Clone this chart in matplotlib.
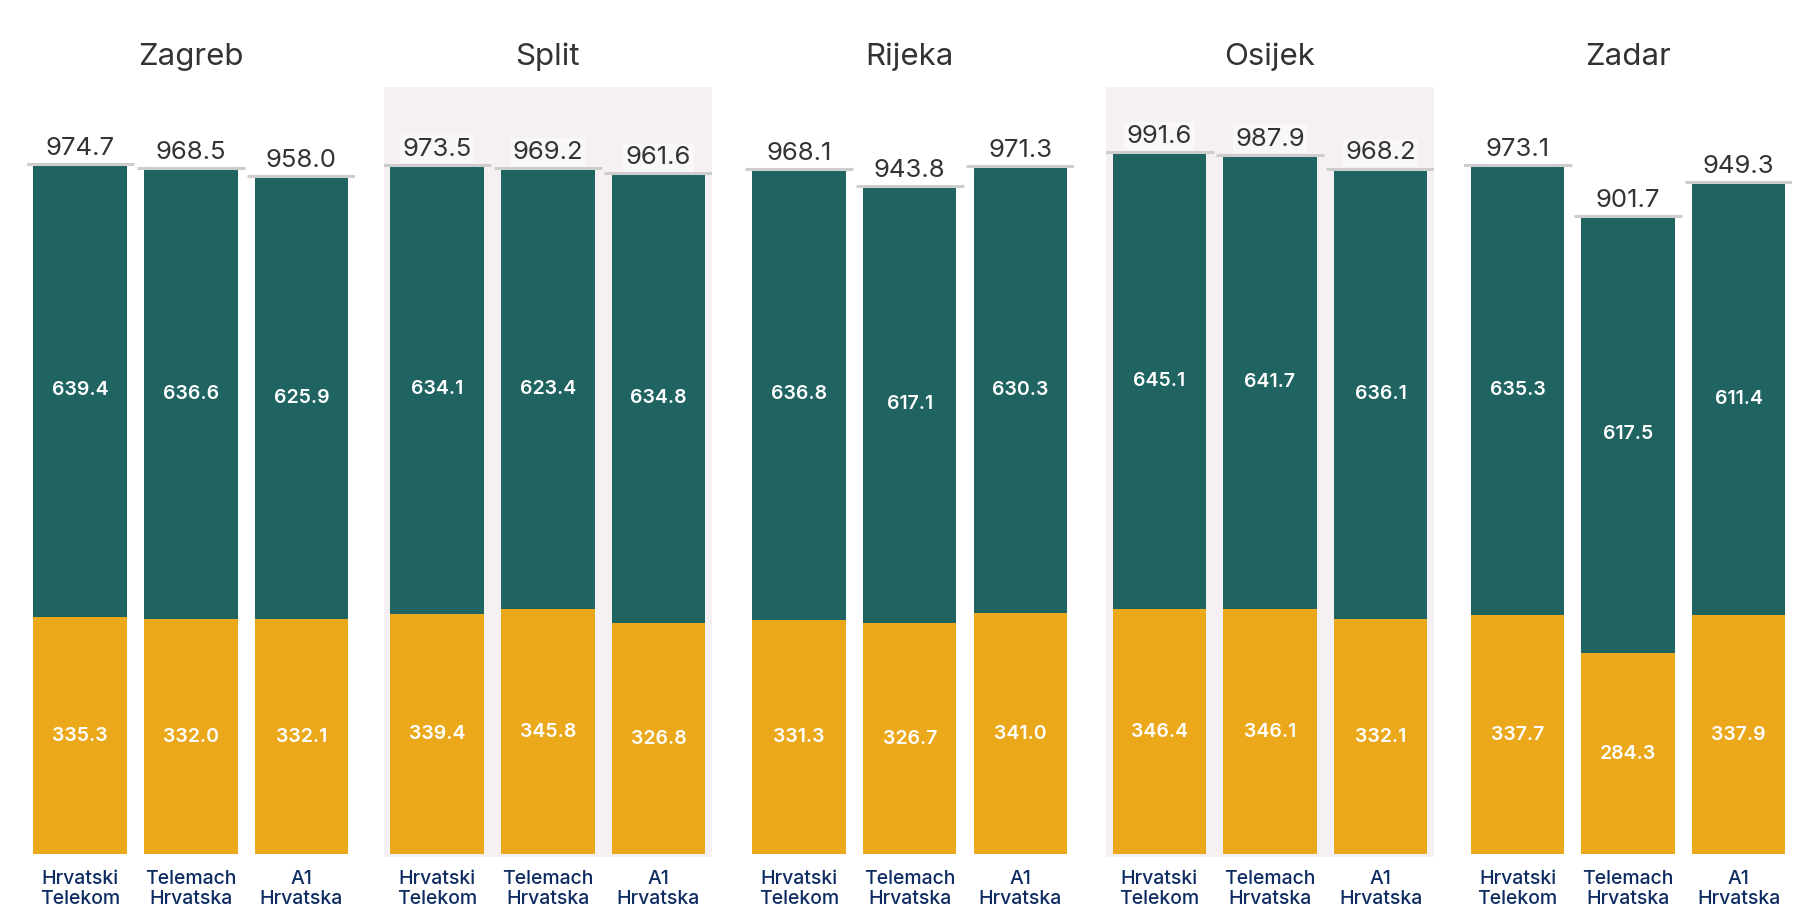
import matplotlib
matplotlib.use("Agg")
import matplotlib.pyplot as plt

plt.rcParams['font.family'] = ['Inter', 'DejaVu Sans']

# data
cities = ["Zagreb", "Split", "Rijeka", "Osijek", "Zadar"]
operators = ["Hrvatski\nTelekom", "Telemach\nHrvatska", "A1\nHrvatska"]
bottom_vals = {
    "Zagreb": [335.3, 332.0, 332.1],
    "Split": [339.4, 345.8, 326.8],
    "Rijeka": [331.3, 326.7, 341.0],
    "Osijek": [346.4, 346.1, 332.1],
    "Zadar": [337.7, 284.3, 337.9],
}
top_vals = {
    "Zagreb": [639.4, 636.6, 625.9],
    "Split": [634.1, 623.4, 634.8],
    "Rijeka": [636.8, 617.1, 630.3],
    "Osijek": [645.1, 641.7, 636.1],
    "Zadar": [635.3, 617.5, 611.4],
}
totals = {
    "Zagreb": [974.7, 968.5, 958.0],
    "Split": [973.5, 969.2, 961.6],
    "Rijeka": [968.1, 943.8, 971.3],
    "Osijek": [991.6, 987.9, 968.2],
    "Zadar": [973.1, 901.7, 949.3],
}
shaded = ["Split", "Osijek"]

green = "#1F6461"
yellow = "#EBA81A"
panel_bg = "#F5F0F3"
cap_color = "#CDCDCD"

fig = plt.figure(figsize=(18.05, 9.1), dpi=100)

lefts = [0.0147, 0.2125, 0.413, 0.6126, 0.811]
width = 0.182
bottom = 0.058
height = 0.846

for city, left in zip(cities, lefts):
    ax = fig.add_axes([left, bottom, width, height])
    x = list(range(len(operators)))
    lo = bottom_vals[city]
    hi = top_vals[city]
    tot = totals[city]

    ax.bar(x, lo, width=0.845, color=yellow, zorder=2)
    ax.bar(x, hi, bottom=lo, width=0.845, color=green, zorder=2)
    ax.hlines(tot, [i - 0.49 for i in x], [i + 0.49 for i in x],
              color=cap_color, lw=2.2, zorder=3)

    for i in x:
        ax.text(i, lo[i] / 2, f"{lo[i]:.1f}", ha='center', va='center',
                color='white', fontsize=14, fontweight='semibold', zorder=4)
        ax.text(i, lo[i] + hi[i] / 2, f"{hi[i]:.1f}", ha='center', va='center',
                color='white', fontsize=14, fontweight='semibold', zorder=4)
        ax.annotate(f"{tot[i]:.1f}", (i, tot[i]), xytext=(0, 3),
                    textcoords='offset points', ha='center', va='bottom',
                    fontsize=18.5, color='#333333', zorder=4,
                    bbox=dict(boxstyle='square,pad=0.1', fc='white',
                              ec='none', alpha=0.5))
        ax.annotate(operators[i], (i, 0), xytext=(0, -11),
                    textcoords='offset points', ha='center', va='top',
                    fontsize=14, color='#0F2C62', linespacing=1.2,
                    fontweight='medium')

    ax.text(0.5, 1.04, city, transform=ax.transAxes, ha='center',
            va='center', fontsize=22.5, color='#333333')

    ax.set_xlim(-0.485, 2.485)
    ax.set_ylim(-4, 1083)
    ax.set_facecolor(panel_bg if city in shaded else 'white')
    ax.set_xticks([])
    ax.set_yticks([])
    for s in ax.spines.values():
        s.set_visible(False)

fig.savefig("out.png", dpi=100, facecolor='white')
